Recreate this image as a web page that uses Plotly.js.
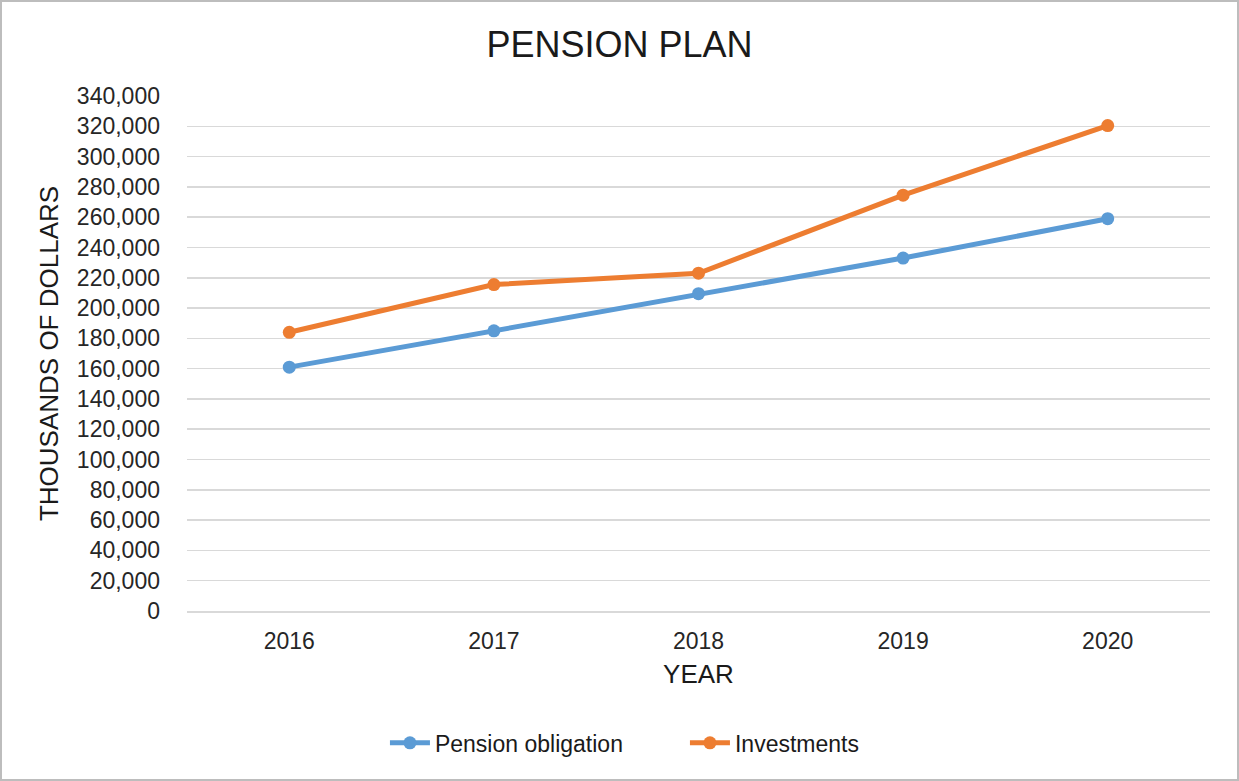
<!DOCTYPE html>
<html>
<head>
<meta charset="utf-8">
<script src="https://cdn.plot.ly/plotly-3.0.1.min.js"></script>
<style>
  html, body { margin: 0; padding: 0; background: #fff; }
  #wrap { width: 1239px; height: 781px; box-sizing: border-box; border: 2px solid #bdbdbd; position: relative; }
  #chart { position: absolute; left: -2px; top: -2px; width: 1239px; height: 781px; }
</style>
</head>
<body>
<div id="wrap"><div id="chart"></div></div>
<script>
const years = ["2016", "2017", "2018", "2019", "2020"];
const pensionObligation = [161000, 185000, 209500, 233000, 259000];
const investments = [184000, 215500, 223000, 274500, 320500];
const yTickVals = [0, 20000, 40000, 60000, 80000, 100000, 120000, 140000, 160000, 180000, 200000, 220000, 240000, 260000, 280000, 300000, 320000, 340000];
const yTickText = ["0", "20,000", "40,000", "60,000", "80,000", "100,000", "120,000", "140,000", "160,000", "180,000", "200,000", "220,000", "240,000", "260,000", "280,000", "300,000", "320,000", "340,000"];

const font = "Liberation Sans, Arial, sans-serif";

const traces = [
  {
    x: years, y: pensionObligation, name: "Pension obligation",
    type: "scatter", mode: "lines+markers",
    line: { color: "#5B9BD5", width: 5 },
    marker: { color: "#5B9BD5", size: 13 }
  },
  {
    x: years, y: investments, name: "Investments",
    type: "scatter", mode: "lines+markers",
    line: { color: "#ED7D31", width: 5 },
    marker: { color: "#ED7D31", size: 13 }
  }
];

const layout = {
  width: 1239, height: 781,
  paper_bgcolor: "rgba(0,0,0,0)",
  plot_bgcolor: "#ffffff",
  margin: { l: 187, r: 29, t: 96, b: 170 },
  font: { family: font, color: "#262626" },
  title: {
    text: "PENSION PLAN",
    font: { family: font, size: 36, color: "#1a1a1a" },
    x: 0.5, xanchor: "center", y: 0.943, yanchor: "middle"
  },
  xaxis: {
    type: "category",
    range: [-0.5, 4.5],
    showgrid: false,
    showline: true, linecolor: "#d9d9d9", linewidth: 2,
    zeroline: false,
    ticks: "",
    ticklabelstandoff: 8,
    tickfont: { family: font, size: 23, color: "#262626" },
    title: { text: "YEAR", font: { family: font, size: 26, color: "#1a1a1a" }, standoff: 12 }
  },
  yaxis: {
    range: [0, 340000],
    tickvals: yTickVals, ticktext: yTickText,
    showgrid: true, gridcolor: "#d9d9d9", gridwidth: 1.5,
    zeroline: false, showline: false,
    ticks: "",
    ticklabelstandoff: 26,
    tickfont: { family: font, size: 23, color: "#262626" },
    title: { text: "THOUSANDS OF DOLLARS", font: { family: font, size: 26, color: "#1a1a1a" }, standoff: 10 }
  },
  showlegend: true,
  legend: {
    orientation: "h",
    x: 0.1935, xanchor: "left",
    y: -0.256, yanchor: "middle",
    font: { family: font, size: 23, color: "#1a1a1a" },
    itemwidth: 40,
    entrywidth: 245, entrywidthmode: "pixels"
  }
};

Plotly.newPlot("chart", traces, layout, { displayModeBar: false, staticPlot: true });
</script>
</body>
</html>
